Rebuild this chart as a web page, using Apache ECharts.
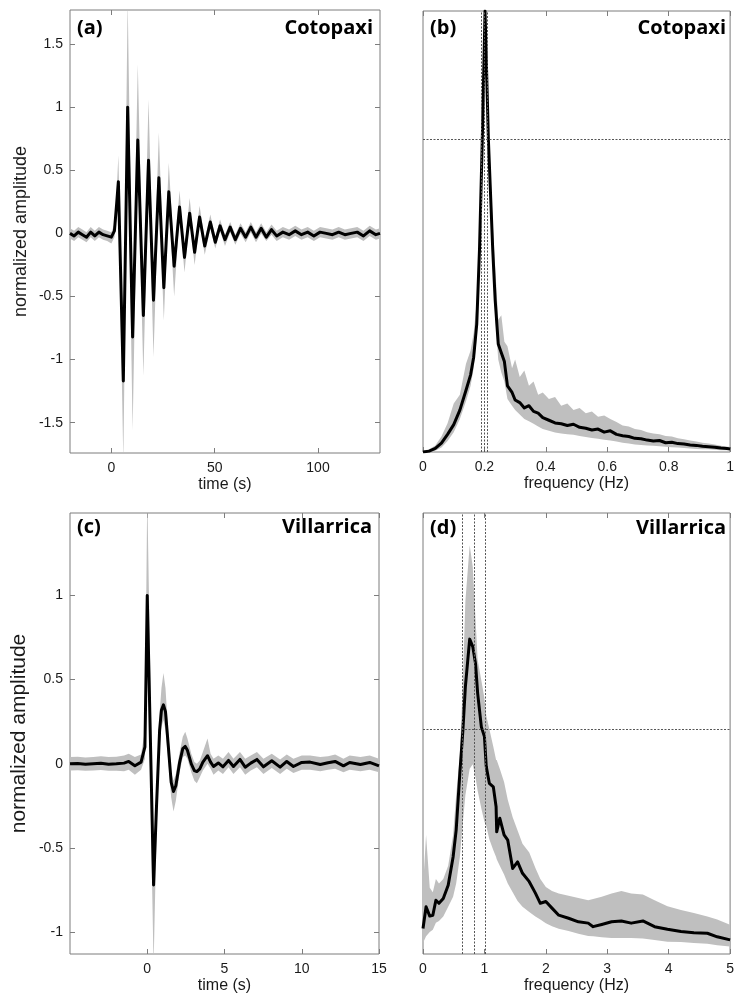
<!DOCTYPE html>
<html>
<head>
<meta charset="utf-8">
<script src="https://cdn.jsdelivr.net/npm/echarts@6/dist/echarts.min.js"></script>
<style>
  html, body { margin: 0; padding: 0; background: #ffffff; }
  #chart { width: 737px; height: 996px; }
</style>
</head>
<body>
<div id="chart"></div>
<script>
// ---------------- (a) Cotopaxi, stacked waveform ----------------
const aTime = [-20, -18, -16, -14, -12, -10, -8, -6, -4, -2,
  0, 1.5, 2.5, 3.4, 5.8, 7.9, 10.3, 12.8, 15.5, 18,
  20.4, 23, 25.4, 27.8, 30.4, 33, 35.4, 37.9, 40.3, 42.7,
  45.2, 47.9, 50.3, 52.6, 55, 57.5, 60, 62.5, 65, 67.5,
  70, 72.5, 75, 77.5, 80, 83, 86, 89, 92, 95,
  98, 101, 104, 107, 110, 113, 116, 119, 122, 125,
  128, 130];
const aMean = [0.00, -0.02, 0.01, -0.01, -0.03, 0.01, -0.02, 0.01, -0.01, -0.02,
  -0.03, 0.02, 0.22, 0.41, -1.17, 1.00, -0.82, 0.74, -0.65, 0.58,
  -0.53, 0.44, -0.43, 0.33, -0.26, 0.21, -0.19, 0.16, -0.15, 0.13,
  -0.10, 0.09, -0.07, 0.06, -0.05, 0.05, -0.05, 0.04, -0.03, 0.05,
  -0.03, 0.04, -0.03, 0.03, -0.02, 0.01, -0.01, 0.02, -0.01, 0.01,
  -0.02, 0.01, 0.00, -0.01, 0.01, -0.01, 0.00, 0.01, -0.02, 0.02,
  -0.01, 0.00];
const aHigh = [0.04, 0.02, 0.05, 0.03, 0.01, 0.05, 0.02, 0.05, 0.03, 0.02,
  0.01, 0.07, 0.30, 0.62, -1.08, 1.85, -0.74, 1.34, -0.57, 1.06,
  -0.46, 0.80, -0.36, 0.56, -0.20, 0.34, -0.13, 0.28, -0.10, 0.22,
  -0.05, 0.15, -0.03, 0.11, -0.01, 0.09, -0.01, 0.08, 0.01, 0.09,
  0.01, 0.08, 0.01, 0.07, 0.02, 0.05, 0.03, 0.06, 0.03, 0.05,
  0.02, 0.05, 0.04, 0.03, 0.05, 0.03, 0.04, 0.05, 0.02, 0.06,
  0.03, 0.04];
const aLow = [-0.04, -0.06, -0.03, -0.05, -0.07, -0.03, -0.06, -0.03, -0.05, -0.06,
  -0.08, -0.03, 0.12, 0.33, -1.80, 0.90, -1.56, 0.66, -1.13, 0.50,
  -0.98, 0.37, -0.69, 0.26, -0.50, 0.15, -0.31, 0.11, -0.25, 0.08,
  -0.17, 0.04, -0.12, 0.02, -0.10, 0.01, -0.09, 0.00, -0.07, 0.01,
  -0.07, 0.00, -0.06, -0.01, -0.06, -0.03, -0.05, -0.02, -0.05, -0.03,
  -0.06, -0.03, -0.04, -0.05, -0.03, -0.05, -0.04, -0.03, -0.06, -0.02,
  -0.05, -0.04];
const aXTicks = [0, 50, 100];
const aYTicks = [-1.5, -1, -0.5, 0, 0.5, 1, 1.5];

// ---------------- (b) Cotopaxi, spectrum ----------------
const bFreq = [0, 0.02, 0.04, 0.06, 0.08, 0.10, 0.12, 0.14, 0.155, 0.165,
  0.175, 0.184, 0.193, 0.202, 0.213, 0.227, 0.235, 0.245, 0.255, 0.265,
  0.275, 0.29, 0.30, 0.315, 0.33, 0.345, 0.36, 0.375, 0.39, 0.41,
  0.43, 0.45, 0.47, 0.49, 0.51, 0.53, 0.55, 0.57, 0.59, 0.61,
  0.63, 0.65, 0.67, 0.69, 0.71, 0.73, 0.75, 0.77, 0.79, 0.81,
  0.83, 0.85, 0.87, 0.89, 0.91, 0.93, 0.95, 0.97, 0.99, 1.0];
const bMean = [0.000, 0.002, 0.008, 0.020, 0.040, 0.062, 0.095, 0.140, 0.175, 0.215,
  0.290, 0.460, 0.707, 1.000, 0.707, 0.460, 0.345, 0.245, 0.225, 0.205,
  0.150, 0.135, 0.118, 0.112, 0.100, 0.105, 0.092, 0.088, 0.078, 0.072,
  0.066, 0.064, 0.060, 0.063, 0.056, 0.054, 0.050, 0.052, 0.045, 0.048,
  0.040, 0.037, 0.035, 0.031, 0.030, 0.027, 0.025, 0.026, 0.021, 0.022,
  0.019, 0.018, 0.016, 0.015, 0.013, 0.012, 0.011, 0.009, 0.008, 0.007];
const bHigh = [0.003, 0.006, 0.015, 0.035, 0.065, 0.110, 0.130, 0.200, 0.230, 0.270,
  0.340, 0.500, 0.740, 1.050, 0.740, 0.520, 0.420, 0.300, 0.310, 0.250,
  0.240, 0.190, 0.210, 0.170, 0.185, 0.150, 0.160, 0.130, 0.135, 0.120,
  0.125, 0.105, 0.110, 0.095, 0.100, 0.088, 0.092, 0.080, 0.083, 0.075,
  0.068, 0.060, 0.058, 0.052, 0.050, 0.045, 0.042, 0.040, 0.036, 0.035,
  0.031, 0.029, 0.026, 0.024, 0.021, 0.019, 0.017, 0.014, 0.012, 0.012];
const bLow = [0.000, 0.000, 0.003, 0.010, 0.025, 0.045, 0.075, 0.115, 0.150, 0.190,
  0.260, 0.420, 0.680, 0.960, 0.680, 0.420, 0.310, 0.210, 0.180, 0.160,
  0.120, 0.105, 0.095, 0.085, 0.075, 0.070, 0.064, 0.058, 0.052, 0.048,
  0.044, 0.042, 0.040, 0.039, 0.036, 0.034, 0.032, 0.030, 0.028, 0.026,
  0.024, 0.021, 0.019, 0.017, 0.016, 0.015, 0.014, 0.013, 0.012, 0.011,
  0.010, 0.009, 0.008, 0.007, 0.006, 0.006, 0.005, 0.004, 0.004, 0.004];
const bEdges = [0.193, 0.202, 0.213];
const bHalfPower = [0.707];
const bXTicks = [0, 0.2, 0.4, 0.6, 0.8, 1];

// ---------------- (c) Villarrica, stacked waveform ----------------
const cTime = [-5, -4.5, -4, -3.5, -3, -2.5, -2, -1.5, -1.2, -0.8,
  -0.4, -0.15, 0, 0.41, 0.6, 0.8, 0.92, 1.05, 1.18, 1.35,
  1.55, 1.7, 1.85, 2.1, 2.3, 2.46, 2.6, 2.85, 3.05, 3.21,
  3.4, 3.6, 3.9, 4.1, 4.29, 4.6, 4.9, 5.26, 5.58, 6.0,
  6.34, 6.7, 7.1, 7.52, 8.06, 8.6, 9.03, 9.46, 10.0, 10.54,
  11.2, 11.7, 12.16, 12.7, 13.1, 13.8, 14.4, 15];
const cMean = [0.000, 0.002, -0.002, 0.000, 0.003, -0.002, 0.000, 0.004, 0.014, -0.012,
  0.010, 0.100, 1.000, -0.720, -0.250, 0.200, 0.320, 0.350, 0.310, 0.120,
  -0.110, -0.165, -0.130, 0.010, 0.090, 0.103, 0.080, 0.000, -0.040, -0.046,
  -0.030, 0.010, 0.048, 0.010, -0.016, 0.005, -0.018, 0.020, -0.016, 0.026,
  -0.020, 0.004, 0.026, -0.018, 0.018, -0.020, 0.014, -0.016, 0.008, 0.010,
  -0.004, 0.006, 0.014, -0.012, 0.008, -0.004, 0.008, -0.012];
const cHigh = [0.040, 0.042, 0.038, 0.040, 0.045, 0.040, 0.042, 0.050, 0.060, 0.040,
  0.055, 0.200, 1.600, -0.620, -0.150, 0.300, 0.450, 0.540, 0.450, 0.200,
  -0.050, -0.100, -0.060, 0.070, 0.160, 0.190, 0.150, 0.060, 0.010, 0.000,
  0.020, 0.070, 0.150, 0.060, 0.030, 0.050, 0.030, 0.070, 0.030, 0.070,
  0.030, 0.050, 0.070, 0.030, 0.060, 0.025, 0.055, 0.030, 0.050, 0.050,
  0.040, 0.045, 0.055, 0.030, 0.050, 0.040, 0.050, 0.030];
const cLow = [-0.040, -0.038, -0.042, -0.040, -0.037, -0.042, -0.042, -0.045, -0.035, -0.065,
  -0.035, 0.030, 0.850, -1.200, -0.400, 0.100, 0.220, 0.260, 0.200, 0.030,
  -0.200, -0.284, -0.220, -0.050, 0.040, 0.050, 0.030, -0.050, -0.100, -0.115,
  -0.080, -0.040, 0.000, -0.030, -0.065, -0.040, -0.060, -0.020, -0.060, -0.020,
  -0.065, -0.040, -0.020, -0.060, -0.025, -0.060, -0.030, -0.055, -0.035, -0.035,
  -0.045, -0.035, -0.030, -0.050, -0.035, -0.045, -0.035, -0.050];
const cXTicks = [0, 5, 10, 15];
const cYTicks = [-1, -0.5, 0, 0.5, 1];

// ---------------- (d) Villarrica, spectrum ----------------
const dFreq = [0, 0.05, 0.11, 0.16, 0.21, 0.26, 0.33, 0.41, 0.49, 0.54,
  0.6, 0.65, 0.69, 0.76, 0.81, 0.855, 0.89, 0.95, 1.0, 1.03,
  1.08, 1.145, 1.19, 1.2, 1.25, 1.32, 1.38, 1.46, 1.54, 1.62,
  1.73, 1.83, 1.91, 2.0, 2.1, 2.21, 2.37, 2.53, 2.69, 2.77,
  2.91, 3.07, 3.23, 3.39, 3.58, 3.77, 3.98, 4.2, 4.41, 4.63,
  4.79, 5.0];
const dMean = [0.058, 0.107, 0.086, 0.088, 0.122, 0.115, 0.126, 0.156, 0.220, 0.281,
  0.410, 0.508, 0.606, 0.714, 0.697, 0.659, 0.591, 0.515, 0.493, 0.425,
  0.387, 0.379, 0.334, 0.277, 0.308, 0.270, 0.258, 0.194, 0.209, 0.183,
  0.164, 0.138, 0.115, 0.119, 0.104, 0.088, 0.081, 0.073, 0.070, 0.062,
  0.067, 0.073, 0.075, 0.070, 0.075, 0.062, 0.056, 0.051, 0.048, 0.047,
  0.039, 0.032];
const dHigh = [0.150, 0.270, 0.150, 0.140, 0.170, 0.160, 0.170, 0.200, 0.270, 0.360,
  0.450, 0.620, 0.800, 0.927, 0.878, 0.760, 0.667, 0.620, 0.580, 0.540,
  0.510, 0.470, 0.440, 0.440, 0.420, 0.390, 0.350, 0.310, 0.280, 0.250,
  0.230, 0.195, 0.170, 0.152, 0.143, 0.137, 0.132, 0.127, 0.122, 0.125,
  0.130, 0.137, 0.143, 0.137, 0.135, 0.122, 0.108, 0.100, 0.093, 0.085,
  0.078, 0.066];
const dLow = [0.025, 0.040, 0.050, 0.055, 0.071, 0.075, 0.085, 0.107, 0.130, 0.160,
  0.220, 0.300, 0.360, 0.420, 0.430, 0.400, 0.370, 0.330, 0.300, 0.290,
  0.260, 0.235, 0.220, 0.215, 0.200, 0.180, 0.160, 0.140, 0.120, 0.107,
  0.095, 0.085, 0.078, 0.070, 0.063, 0.057, 0.052, 0.046, 0.041, 0.040,
  0.038, 0.036, 0.036, 0.036, 0.035, 0.032, 0.028, 0.027, 0.025, 0.023,
  0.020, 0.017];
const dEdges = [0.64, 0.83, 1.02];
const dHalfPower = [0.505];
const dXTicks = [0, 1, 2, 3, 4, 5];

// ---------------- helpers ----------------
function pairs(xs, ys) { return xs.map(function (x, i) { return [x, ys[i]]; }); }

const FRAME = '#7d7d7d';
const BAND = '#bfbfbf';
const TICKFONT = { fontFamily: 'Liberation Sans', fontSize: 14, color: '#1a1a1a' };

const panels = [
  { x: aTime, mean: aMean, low: aLow, high: aHigh, xMin: -20, xMax: 130, yMin: -1.74, yMax: 1.77,
    xTicks: aXTicks, yTicks: aYTicks, xName: 'time (s)', yName: 'normalized amplitude', yNameSize: 18,
    grid: { left: 70, top: 10, width: 310, height: 443 }, tag: '(a)', site: 'Cotopaxi', tagTop: 18 },
  { x: bFreq, mean: bMean, low: bLow, high: bHigh, xMin: 0, xMax: 1, yMin: 0, yMax: 1,
    xTicks: bXTicks, yTicks: null, xName: 'frequency (Hz)', yName: '',
    edges: bEdges, half: bHalfPower,
    grid: { left: 423, top: 11, width: 310, height: 441 }, tag: '(b)', site: 'Cotopaxi', tagTop: 18 },
  { x: cTime, mean: cMean, low: cLow, high: cHigh, xMin: -5, xMax: 15, yMin: -1.13, yMax: 1.49,
    xTicks: cXTicks, yTicks: cYTicks, xName: 'time (s)', yName: 'normalized amplitude', yNameSize: 21,
    grid: { left: 70, top: 513, width: 309, height: 441 }, tag: '(c)', site: 'Villarrica', tagTop: 517 },
  { x: dFreq, mean: dMean, low: dLow, high: dHigh, xMin: 0, xMax: 5, yMin: 0, yMax: 1,
    xTicks: dXTicks, yTicks: null, xName: 'frequency (Hz)', yName: '',
    edges: dEdges, half: dHalfPower,
    grid: { left: 423, top: 513, width: 310, height: 441 }, tag: '(d)', site: 'Villarrica', tagTop: 518 }
];

const grids = [], xAxes = [], yAxes = [], series = [], titles = [];

panels.forEach(function (p, k) {
  grids.push(Object.assign({ show: true, borderColor: FRAME, borderWidth: 1, backgroundColor: 'transparent' }, p.grid));
});
// bottom x axes
panels.forEach(function (p, k) {
  xAxes.push({
    type: 'value', gridIndex: k, min: p.xMin, max: p.xMax, position: 'bottom',
    name: p.xName, nameLocation: 'middle', nameGap: 24,
    nameTextStyle: { fontFamily: 'Liberation Sans', fontSize: 16, color: '#1a1a1a' },
    axisLine: { show: false, onZero: false }, splitLine: { show: false },
    axisTick: { show: true, inside: true, length: 5, customValues: p.xTicks, lineStyle: { color: FRAME } },
    axisLabel: Object.assign({ show: true, margin: 8, customValues: p.xTicks }, TICKFONT)
  });
});
// top mirror x axes
panels.forEach(function (p, k) {
  xAxes.push({
    type: 'value', gridIndex: k, min: p.xMin, max: p.xMax, position: 'top',
    axisLine: { show: false, onZero: false }, splitLine: { show: false },
    axisTick: { show: true, inside: true, length: 5, customValues: p.xTicks, lineStyle: { color: FRAME } },
    axisLabel: { show: false }
  });
});
// left y axes
panels.forEach(function (p, k) {
  const hasTicks = !!p.yTicks;
  yAxes.push({
    type: 'value', gridIndex: k, min: p.yMin, max: p.yMax, position: 'left',
    name: p.yName, nameLocation: 'middle', nameGap: 40,
    nameTextStyle: { fontFamily: 'Liberation Sans', fontSize: p.yNameSize || 16, color: '#1a1a1a' },
    axisLine: { show: false, onZero: false }, splitLine: { show: false },
    axisTick: hasTicks ? { show: true, inside: true, length: 5, customValues: p.yTicks, lineStyle: { color: FRAME } } : { show: false },
    axisLabel: hasTicks ? Object.assign({ show: true, margin: 7, customValues: p.yTicks }, TICKFONT) : { show: false }
  });
});
// right mirror y axes
panels.forEach(function (p, k) {
  const hasTicks = !!p.yTicks;
  yAxes.push({
    type: 'value', gridIndex: k, min: p.yMin, max: p.yMax, position: 'right',
    axisLine: { show: false, onZero: false }, splitLine: { show: false },
    axisTick: hasTicks ? { show: true, inside: true, length: 5, customValues: p.yTicks, lineStyle: { color: FRAME } } : { show: false },
    axisLabel: { show: false }
  });
});

function bandRenderer(p) {
  return function (params, api) {
    if (params.dataIndex !== 0) return null;
    const pts = [];
    for (let i = 0; i < p.x.length; i++) pts.push(api.coord([p.x[i], p.high[i]]));
    for (let i = p.x.length - 1; i >= 0; i--) pts.push(api.coord([p.x[i], p.low[i]]));
    const cs = params.coordSys;
    return {
      type: 'polygon',
      shape: { points: pts },
      style: { fill: BAND, stroke: null },
      clipPath: { type: 'rect', shape: { x: cs.x, y: cs.y, width: cs.width, height: cs.height } },
      silent: true
    };
  };
}

panels.forEach(function (p, k) {
  series.push({
    type: 'custom', xAxisIndex: k, yAxisIndex: k, silent: true, z: 2,
    data: pairs(p.x, p.low).concat(pairs(p.x, p.high)),
    encode: { x: 0, y: 1 },
    renderItem: bandRenderer(p)
  });
  const meanSeries = {
    type: 'line', xAxisIndex: k, yAxisIndex: k, silent: true,
    symbol: 'none', data: pairs(p.x, p.mean),
    lineStyle: { color: '#000000', width: 3, join: 'round' }, z: 4
  };
  if (p.edges) {
    const ml = [];
    p.edges.forEach(function (v) { ml.push({ xAxis: v }); });
    p.half.forEach(function (v) { ml.push({ yAxis: v }); });
    meanSeries.markLine = {
      silent: true, symbol: ['none', 'none'], label: { show: false }, animation: false,
      lineStyle: { color: '#555555', width: 1, type: [2, 1.5] },
      data: ml
    };
  }
  series.push(meanSeries);

  titles.push({
    text: p.tag, left: p.grid.left + 7, top: p.tagTop, padding: 0,
    textStyle: { fontFamily: 'Open Sans', fontWeight: 'bold', fontSize: 20, color: '#000' }
  });
  titles.push({
    text: p.site, right: 737 - (p.grid.left + p.grid.width) + 7, top: p.tagTop, padding: 0,
    textStyle: { fontFamily: 'Open Sans', fontWeight: 'bold', fontSize: 20, color: '#000' }
  });
});

const chart = echarts.init(document.getElementById('chart'), null, { renderer: 'canvas' });
chart.setOption({
  animation: false,
  backgroundColor: '#ffffff',
  title: titles,
  grid: grids,
  xAxis: xAxes,
  yAxis: yAxes,
  series: series
});
</script>
</body>
</html>
